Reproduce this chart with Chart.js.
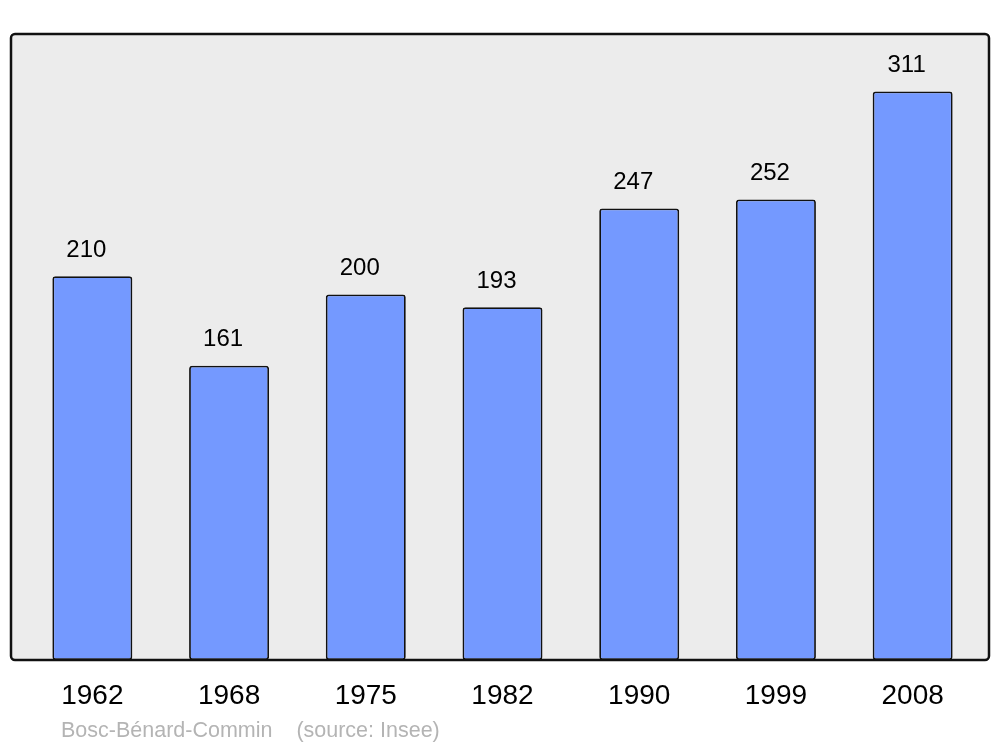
<!DOCTYPE html>
<html>
<head>
<meta charset="utf-8">
<script src="https://cdn.jsdelivr.net/npm/chart.js@4/dist/chart.umd.min.js"></script>
<style>
html,body{margin:0;padding:0;background:#fff;}
#wrap{width:1000px;height:747px;position:relative;}
</style>
</head>
<body>
<div id="wrap"><canvas id="c" width="1000" height="747"></canvas></div>
<script>
const years = ['1962','1968','1975','1982','1990','1999','2008'];
const population = [210,161,200,193,247,252,311];
const footerText = 'Bosc-Bénard-Commin    (source: Insee)';

const FONT = '"Liberation Sans", Arial, sans-serif';

const framePlugin = {
  id: 'frame',
  beforeDraw(chart) {
    const ctx = chart.ctx;
    ctx.save();
    ctx.fillStyle = '#ffffff';
    ctx.fillRect(0,0,chart.width,chart.height);
    ctx.beginPath();
    ctx.roundRect(11, 34, 978, 626, 4);
    ctx.fillStyle = '#ececec';
    ctx.fill();
    ctx.restore();
  },
  afterDatasetsDraw(chart) {
    const ctx = chart.ctx;
    const meta = chart.getDatasetMeta(0);
    ctx.save();
    ctx.fillStyle = '#000';
    ctx.font = '24px ' + FONT;
    ctx.textAlign = 'center';
    ctx.textBaseline = 'middle';
    meta.data.forEach((bar, i) => {
      ctx.fillText(String(population[i]), bar.x - 6, bar.y - 26);
    });
    ctx.restore();
  },
  afterDraw(chart) {
    const ctx = chart.ctx;
    ctx.save();
    ctx.beginPath();
    ctx.roundRect(11, 34, 978, 626, 4);
    ctx.lineWidth = 2.5;
    ctx.strokeStyle = '#111';
    ctx.stroke();
    ctx.fillStyle = '#b4b4b4';
    ctx.font = '21.5px ' + FONT;
    ctx.textAlign = 'left';
    ctx.textBaseline = 'alphabetic';
    ctx.fillText(footerText, 61, 737);
    ctx.restore();
  }
};

new Chart(document.getElementById('c'), {
  type: 'bar',
  data: {
    labels: years,
    datasets: [{
      data: population,
      backgroundColor: '#7499ff',
      borderColor: '#111',
      borderWidth: 1.8,
      borderRadius: 3,
      borderSkipped: false,
      barPercentage: 0.585,
      categoryPercentage: 1.0
    }]
  },
  options: {
    responsive: false,
    animation: false,
    devicePixelRatio: 1,
    layout: { padding: { left: 24, right: 19, top: 34, bottom: 0 } },
    plugins: { legend: { display: false }, tooltip: { enabled: false }, title: { display: false } },
    scales: {
      x: {
        grid: { display: false, drawTicks: false },
        border: { display: false },
        ticks: { color: '#000', font: { size: 28, family: FONT }, padding: 19 },
        afterFit(s) { s.height = 87; }
      },
      y: {
        display: false,
        min: 0,
        max: 342.5
      }
    }
  },
  plugins: [framePlugin]
});
</script>
</body>
</html>
